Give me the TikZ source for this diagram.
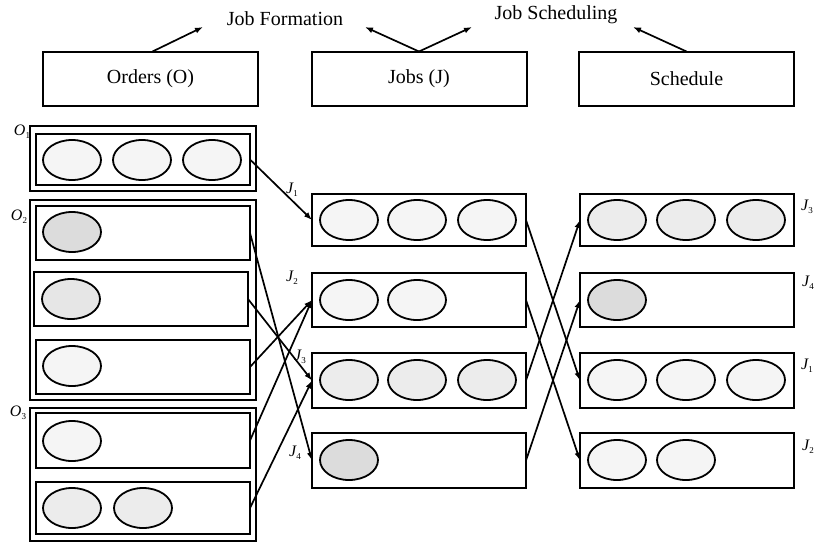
\documentclass[tikz,border=0pt]{standalone}
\usepackage{fontspec}
\setmainfont{Liberation Serif}
\newcommand{\lblx}[2]{{\fontsize{16}{16}\selectfont\itshape #1}{\fontsize{9}{9}\selectfont\raisebox{-3pt}{#2}}}
\definecolor{eA}{HTML}{F5F5F5}
\definecolor{eB}{HTML}{ECECEC}
\definecolor{eC}{HTML}{E6E6E6}
\definecolor{eD}{HTML}{DCDCDC}
\tikzset{
  hdr/.style={draw, line width=2pt, minimum width=215pt, minimum height=54pt, inner sep=0pt, outer sep=0pt, font=\fontsize{20}{20}\selectfont},
  rowbox/.style={draw, line width=2pt, minimum width=214pt, minimum height=53pt, inner sep=0pt, outer sep=0pt, anchor=north west},
  grp/.style={draw, line width=2pt, inner sep=0pt, outer sep=0pt},
  ell/.style={draw, line width=1.8pt, ellipse, minimum width=58pt, minimum height=40pt, inner sep=0pt},
  arr/.style={line width=1.7pt, -{Latex[length=8pt,width=6pt]}},
  ttl/.style={font=\fontsize{20}{20}\selectfont},
  lbl/.style={inner sep=0pt}
}
\usetikzlibrary{shapes.geometric,arrows.meta}
\begin{document}
\begin{tikzpicture}[x=1pt,y=-1pt]
\useasboundingbox (0,0) rectangle (817,544);
% headers
\node[hdr] (ord) at (150.5,78.5) {Orders (O)};
\node[hdr] (job) at (419,78.5) {Jobs (J)};
\node[hdr] (sch) at (686.5,78.5) {Schedule};
\node[ttl] (jf) at (285,19) {Job Formation};
\node[ttl] (js) at (556,15) {Job Scheduling};
\coordinate (a1) at (203,27);
\coordinate (a2) at (365,27);
\coordinate (a3) at (472,27);
\coordinate (a4) at (633,27);
\draw[arr] (ord.north) ++(2,0) -- (a1);
\draw[arr] (job.north) -- (a2);
\draw[arr] (job.north) -- (a3);
\draw[arr] (sch.north) -- (a4);
% order groups
\draw[grp] (30,126) rectangle (256,191);
\draw[grp] (30,200) rectangle (256,400);
\draw[grp] (30,408) rectangle (256,541);
\node[lbl] (lo1) at (22,132) {\lblx{O}{1}};
\node[lbl] (lo2) at (19,217) {\lblx{O}{2}};
\node[lbl] (lo3) at (18,413) {\lblx{O}{3}};
% order rows
\node[rowbox, minimum height=51pt] (o1) at (36,134) {};
\node[rowbox, minimum height=54pt] (o21) at (36,206) {};
\node[rowbox, minimum height=54pt] (o22) at (34,272) {};
\node[rowbox, minimum height=54pt] (o23) at (36,340) {};
\node[rowbox, minimum height=55pt] (o31) at (36,413) {};
\node[rowbox, minimum height=52pt] (o32) at (36,482) {};
\node[ell, fill=eA] (e11) at (72,160) {};
\node[ell, fill=eA] (e12) at (142,160) {};
\node[ell, fill=eA] (e13) at (212,160) {};
\node[ell, fill=eD] (e21) at (72,232) {};
\node[ell, fill=eC] (e22) at (71,299) {};
\node[ell, fill=eA] (e23) at (72,366) {};
\node[ell, fill=eA] (e31) at (72,441) {};
\node[ell, fill=eB] (e32) at (72,508) {};
\node[ell, fill=eB] (e33) at (143,508) {};
% jobs column
\node[rowbox, minimum height=52pt] (j1) at (312,194) {};
\node[rowbox, minimum height=54pt] (j2) at (312,273) {};
\node[rowbox, minimum height=55pt] (j3) at (312,353) {};
\node[rowbox, minimum height=55pt] (j4) at (312,433) {};
\node[ell, fill=eA] (f11) at (349,220) {};
\node[ell, fill=eA] (f12) at (417,220) {};
\node[ell, fill=eA] (f13) at (487,220) {};
\node[ell, fill=eA] (f21) at (349,300) {};
\node[ell, fill=eA] (f22) at (417,300) {};
\node[ell, fill=eB] (f31) at (349,380) {};
\node[ell, fill=eB] (f32) at (417,380) {};
\node[ell, fill=eB] (f33) at (487,380) {};
\node[ell, fill=eD] (f41) at (349,460) {};
\node[lbl] (lj1) at (292,190) {\lblx{J}{1}};
\node[lbl] (lj2) at (292,278) {\lblx{J}{2}};
\node[lbl] (lj3) at (300,357) {\lblx{J}{3}};
\node[lbl] (lj4) at (295,453) {\lblx{J}{4}};
% schedule column
\node[rowbox, minimum height=52pt] (s1) at (580,194) {};
\node[rowbox, minimum height=54pt] (s2) at (580,273) {};
\node[rowbox, minimum height=55pt] (s3) at (580,353) {};
\node[rowbox, minimum height=55pt] (s4) at (580,433) {};
\node[ell, fill=eB] (g11) at (617,220) {};
\node[ell, fill=eB] (g12) at (686,220) {};
\node[ell, fill=eB] (g13) at (756,220) {};
\node[ell, fill=eD] (g21) at (617,300) {};
\node[ell, fill=eA] (g31) at (617,380) {};
\node[ell, fill=eA] (g32) at (686,380) {};
\node[ell, fill=eA] (g33) at (756,380) {};
\node[ell, fill=eA] (g41) at (617,460) {};
\node[ell, fill=eA] (g42) at (686,460) {};
\node[lbl] (ls1) at (807,207) {\lblx{J}{3}};
\node[lbl] (ls2) at (808,283) {\lblx{J}{4}};
\node[lbl] (ls3) at (807,366) {\lblx{J}{1}};
\node[lbl] (ls4) at (808,447) {\lblx{J}{2}};
% connectors orders -> jobs
\draw[arr] (o1.east) -- (j1.west);
\draw[arr] (o21.east) -- (j4.west);
\draw[arr] (o22.east) -- (j3.west);
\draw[arr] (o23.east) -- (j2.west);
\draw[arr] (o31.east) -- (j2.west);
\draw[arr] (o32.east) -- (j3.west);
% connectors jobs -> schedule
\draw[arr] (j1.east) -- (s3.west);
\draw[arr] (j2.east) -- (s4.west);
\draw[arr] (j3.east) -- (s1.west);
\draw[arr] (j4.east) -- (s2.west);
\end{tikzpicture}
\end{document}
